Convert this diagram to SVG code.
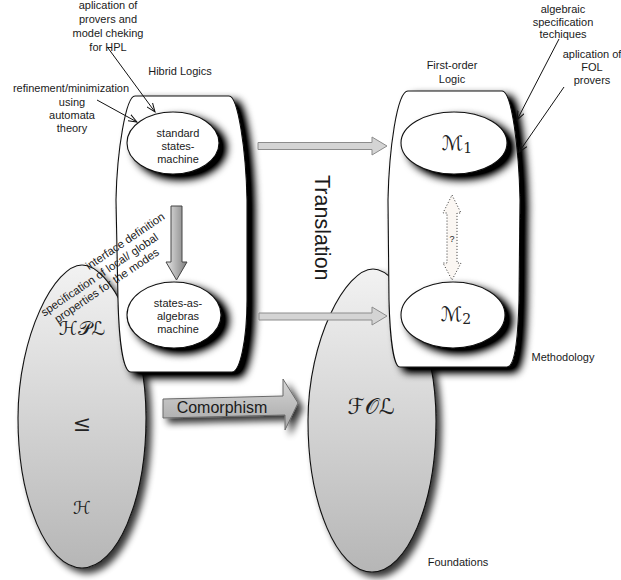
<svg xmlns="http://www.w3.org/2000/svg" width="621" height="580" viewBox="0 0 621 580">
<defs>
<style>
.t{font-family:"Liberation Sans",Arial,sans-serif;font-size:11px;fill:#1a1a1a;text-anchor:middle}
.m{font-family:"DejaVu Serif","DejaVu Sans",serif;fill:#222;text-anchor:middle}
.box{fill:#fff;stroke:#111;stroke-width:1.1}
.gray{fill:url(#gg);stroke:#111;stroke-width:1.1}
.ann{fill:none;stroke:#111;stroke-width:1;marker-end:url(#ah)}
.harrow{fill:#d4d4d4;stroke:#8c8c8c;stroke-width:1}
</style>
<linearGradient id="gg" x1="0" y1="0" x2="0" y2="1">
<stop offset="0" stop-color="#f2f2f2"/>
<stop offset="1" stop-color="#b6b6b6"/>
</linearGradient>
<linearGradient id="dg" x1="0" y1="0" x2="1" y2="0">
<stop offset="0" stop-color="#e6e6e6"/>
<stop offset="1" stop-color="#7e7e7e"/>
</linearGradient>
<linearGradient id="cg" x1="0" y1="0" x2="0" y2="1">
<stop offset="0" stop-color="#d6d6d6"/>
<stop offset="1" stop-color="#a6a6a6"/>
</linearGradient>
<filter id="sh" x="-30%" y="-20%" width="170%" height="150%">
<feGaussianBlur in="SourceAlpha" stdDeviation="4.5"/>
<feOffset dx="7" dy="5"/>
<feComponentTransfer><feFuncA type="linear" slope="1.3"/></feComponentTransfer>
<feMerge><feMergeNode/><feMergeNode in="SourceGraphic"/></feMerge>
</filter>
<filter id="sh2" x="-30%" y="-20%" width="170%" height="150%">
<feGaussianBlur in="SourceAlpha" stdDeviation="3.5"/>
<feOffset dx="5" dy="5"/>
<feComponentTransfer><feFuncA type="linear" slope="0.8"/></feComponentTransfer>
<feMerge><feMergeNode/><feMergeNode in="SourceGraphic"/></feMerge>
</filter>
<marker id="ah" markerWidth="10" markerHeight="8" refX="9" refY="4" orient="auto" markerUnits="userSpaceOnUse">
<path d="M0,0.5 L9,4 L0,7.5" fill="none" stroke="#111" stroke-width="1"/>
</marker>
</defs>

<g id="hpl-ellipse">
<path class="gray" filter="url(#sh2)" d="M82,265 C55,265 18,335 18,418 C18,501 47,568 82,568 C117,568 146,501 146,418 C146,335 110,265 82,265 Z"/>
<text class="m" x="82" y="335" font-size="19">ℋ𝒫ℒ</text>
<text class="m" x="82" y="431" font-size="22">≤</text>
<text class="m" x="82" y="514" font-size="18">ℋ</text>
</g>

<g id="fol-ellipse">
<path class="gray" filter="url(#sh2)" d="M373,269 C346,269 308,339 308,421 C308,504 337,572 372,572 C407,572 436,504 436,421 C436,339 400,269 373,269 Z"/>
<text class="m" x="371" y="414" font-size="22">ℱ𝒪ℒ</text>
</g>

<g id="hibrid-logics">
<path class="box" filter="url(#sh)" d="M135,96 L229,96 C238,96 246,150 247,200 L247,300 C247,340 240,372 232,372 L131,372 C123,372 119,340 118,300 L116,200 C117,150 126,96 135,96 Z"/>
<text class="t" x="180" y="75">Hibrid Logics</text>
</g>

<g id="standard-states-machine">
<ellipse class="box" filter="url(#sh)" cx="173" cy="143" rx="46" ry="31"/>
<text class="t" x="178" y="137">standard</text>
<text class="t" x="178" y="150">states-</text>
<text class="t" x="178" y="163">machine</text>
</g>

<g id="states-as-algebras">
<ellipse class="box" filter="url(#sh)" cx="174" cy="315" rx="47" ry="33"/>
<text class="t" x="178" y="307">states-as-</text>
<text class="t" x="178" y="320">algebras</text>
<text class="t" x="178" y="333">machine</text>
</g>

<g id="first-order-logic">
<path class="box" filter="url(#sh)" d="M408,91 L502,91 C512,91 519,150 520,200 L519,300 C518,340 515,367 507,367 L400,367 C394,367 390,340 389,300 L388,200 C389,150 397,91 408,91 Z"/>
<text class="t" x="452" y="69">First-order</text>
<text class="t" x="452" y="83">Logic</text>
</g>

<g id="m1">
<ellipse class="box" filter="url(#sh)" cx="454" cy="143" rx="53" ry="31"/>
<text class="m" x="457" y="150" font-size="20">ℳ<tspan font-size="14" dy="3">1</tspan></text>
</g>

<g id="m2">
<ellipse class="box" filter="url(#sh)" cx="453" cy="315" rx="52" ry="33"/>
<text class="m" x="456" y="321" font-size="20">ℳ<tspan font-size="14" dy="3">2</tspan></text>
</g>

<g id="connectors">
<path class="harrow" d="M258,142.5 L372,142.5 L372,137 L387,146 L372,155 L372,149.5 L258,149.5 Z"/>
<path class="harrow" d="M259,313 L372,313 L372,307 L387,316 L372,325 L372,320 L259,320 Z"/>
<path fill="url(#dg)" stroke="#444" stroke-width="1" d="M171,206 L182,206 L182,262 L187,262 L176.5,280 L166,262 L171,262 Z"/>
<path fill="#fbf7f3" stroke="#333" stroke-width="1" stroke-dasharray="1,2" d="M452,195 L461,213 L457,213 L457,263 L461,263 L452,280 L443,263 L447,263 L447,213 L443,213 Z"/>
<text class="t" x="452" y="242" style="font-size:9px">?</text>
<path fill="url(#cg)" stroke="#6a6a6a" stroke-width="1" filter="url(#sh2)" d="M163,399 L283,396 L283,379 L298,403 L285,430 L285,415 L163,418 Z"/>
<text class="t" x="222" y="413" style="font-size:16px">Comorphism</text>
<line class="ann" x1="108" y1="48" x2="155" y2="112"/>
<line class="ann" x1="97" y1="100" x2="137" y2="122"/>
<line class="ann" x1="559" y1="39" x2="517" y2="120"/>
<line class="ann" x1="564" y1="87" x2="519" y2="152"/>
</g>

<g id="labels">
<text class="t" x="108" y="9">aplication of</text>
<text class="t" x="108" y="23">provers and</text>
<text class="t" x="108" y="37">model cheking</text>
<text class="t" x="108" y="51">for HPL</text>
<text class="t" x="71" y="92">refinement/minimization</text>
<text class="t" x="72" y="106">using</text>
<text class="t" x="72" y="119">automata</text>
<text class="t" x="72" y="132">theory</text>
<text class="t" x="563" y="13">algebraic</text>
<text class="t" x="563" y="26">specification</text>
<text class="t" x="563" y="38">techiques</text>
<text class="t" x="592" y="58">aplication of</text>
<text class="t" x="592" y="71">FOL</text>
<text class="t" x="592" y="84">provers</text>
<text class="t" x="563" y="361">Methodology</text>
<text class="t" x="458" y="566">Foundations</text>
<text class="t" x="0" y="0" style="font-size:21.5px;text-anchor:start" transform="translate(315,175) rotate(90)">Translation</text>
<g transform="translate(125,241) rotate(-34)">
<text class="t" x="0" y="4" style="font-size:11.4px">interface definition</text>
<text class="t" x="-40" y="17.5" style="font-size:11.4px">specification of local/ global</text>
<text class="t" x="-40" y="30.5" style="font-size:11.4px">properties for the modes</text>
</g>
</g>
</svg>
